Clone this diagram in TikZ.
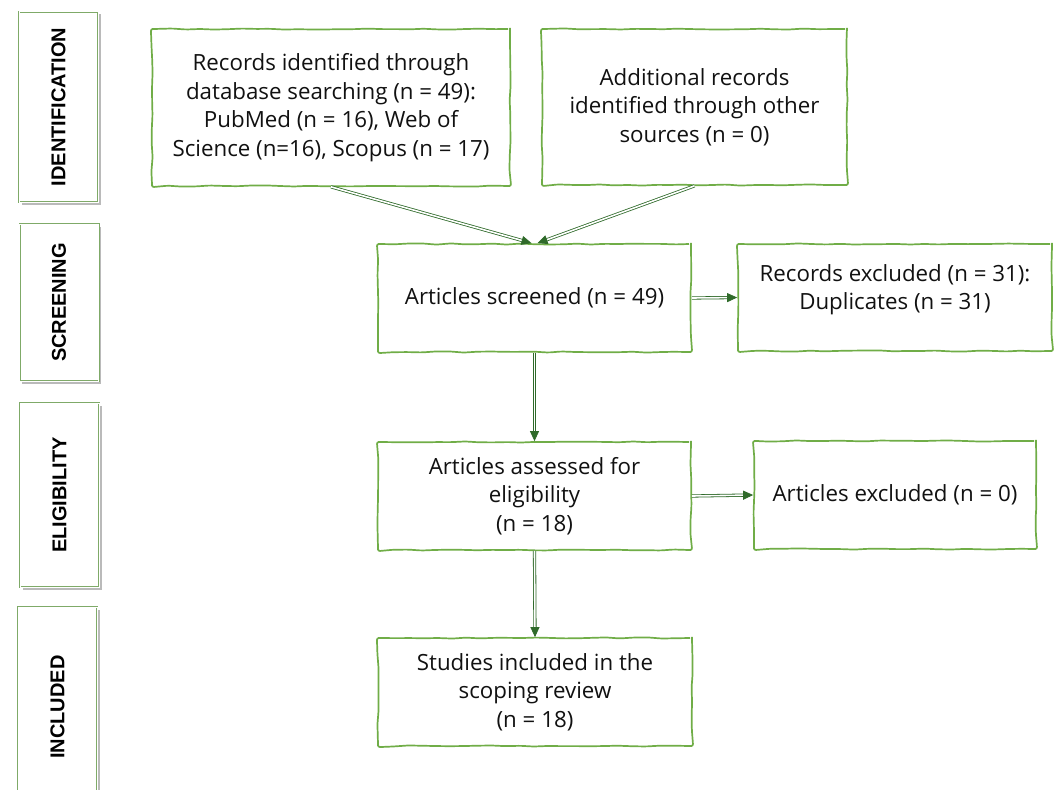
\documentclass[tikz,border=0pt]{standalone}
\usepackage{fontspec}
\setmainfont{Open Sans}
\newfontfamily\sidefont{Liberation Sans}
\usetikzlibrary{arrows.meta,decorations.pathmorphing,shadows}
\definecolor{boxgreen}{HTML}{70AD47}
\definecolor{arrowgreen}{HTML}{2F6A2A}
\definecolor{sidegreen}{HTML}{7FAA68}
\definecolor{txt}{HTML}{111111}
\begin{document}
\begin{tikzpicture}[x=1pt,y=-1pt,
  mainbox/.style={draw=boxgreen, line width=1.7pt, fill=white, align=center,
    text=txt, inner sep=0pt,
    font=\fontsize{22.3}{28.5}\selectfont,
    decorate, decoration={random steps, segment length=14pt, amplitude=0.6pt},
    rounded corners=2pt},
  sidebox/.style={draw=sidegreen, line width=0.5pt, double=white, double distance=1pt,
    fill=white, minimum width=79pt, inner sep=0pt,
    drop shadow={opacity=0.45, shadow xshift=2.5pt, shadow yshift=-2.5pt, fill=black!60},
    font=\sidefont\bfseries\fontsize{20}{23}\selectfont, text=black},
  flow/.style={draw=arrowgreen, line width=0.8pt, double=white, double distance=1.6pt,
    -{Triangle[length=10pt,width=9pt,fill=arrowgreen]}},
]
\pgfmathsetseed{7}
\useasboundingbox (0,0) rectangle (1056,789);
\begin{scope}
\clip (0,0) rectangle (1056,789);
% side phase boxes
\node[sidebox, minimum height=190pt] (sid) at (58.5,107) {\rotatebox{90}{IDENTIFICATION}};
\node[sidebox, minimum height=157pt] (ssc) at (59,302.5) {\rotatebox{90}{SCREENING}};
\node[sidebox, minimum height=184pt] (sel) at (59.5,495) {\rotatebox{90}{ELIGIBILITY}};
\node[sidebox, minimum height=200pt] (sin) at (57.5,707) {\rotatebox{90}{INCLUDED}};
\end{scope}
% main boxes
\node[mainbox, minimum width=358pt, minimum height=157pt] (rec) at (331,107.5)
  {Records identified through\\database searching (n = 49):\\PubMed (n = 16), Web of\\Science (n=16), Scopus (n = 17)};
\node[mainbox, minimum width=305pt, minimum height=156pt] (add) at (694.5,107)
  {Additional records\\identified through other\\sources (n = 0)};
\node[mainbox, minimum width=313pt, minimum height=108pt] (scr) at (534.5,298)
  {Articles screened (n = 49)};
\node[mainbox, minimum width=314pt, minimum height=107pt] (rex) at (895,297.5)
  {Records excluded (n = 31):\\Duplicates (n = 31)\\[-8pt]\mbox{}};
\node[mainbox, minimum width=313pt, minimum height=108pt] (ass) at (534.5,496)
  {Articles assessed for\\eligibility\\(n = 18)};
\node[mainbox, minimum width=282pt, minimum height=108pt] (aex) at (895,495)
  {Articles excluded (n = 0)};
\node[mainbox, minimum width=314pt, minimum height=108pt] (inc) at (535,692)
  {Studies included in the\\scoping review\\(n = 18)};
% connectors
\draw[flow] (rec.south) -- ([xshift=-3pt]scr.north);
\draw[flow] (add.south) -- ([xshift=3pt]scr.north);
\draw[flow] (scr.east) -- (rex.west);
\draw[flow] (scr.south) -- (ass.north);
\draw[flow] (ass.east) -- (aex.west);
\draw[flow] (ass.south) -- (inc.north);
\end{tikzpicture}
\end{document}
